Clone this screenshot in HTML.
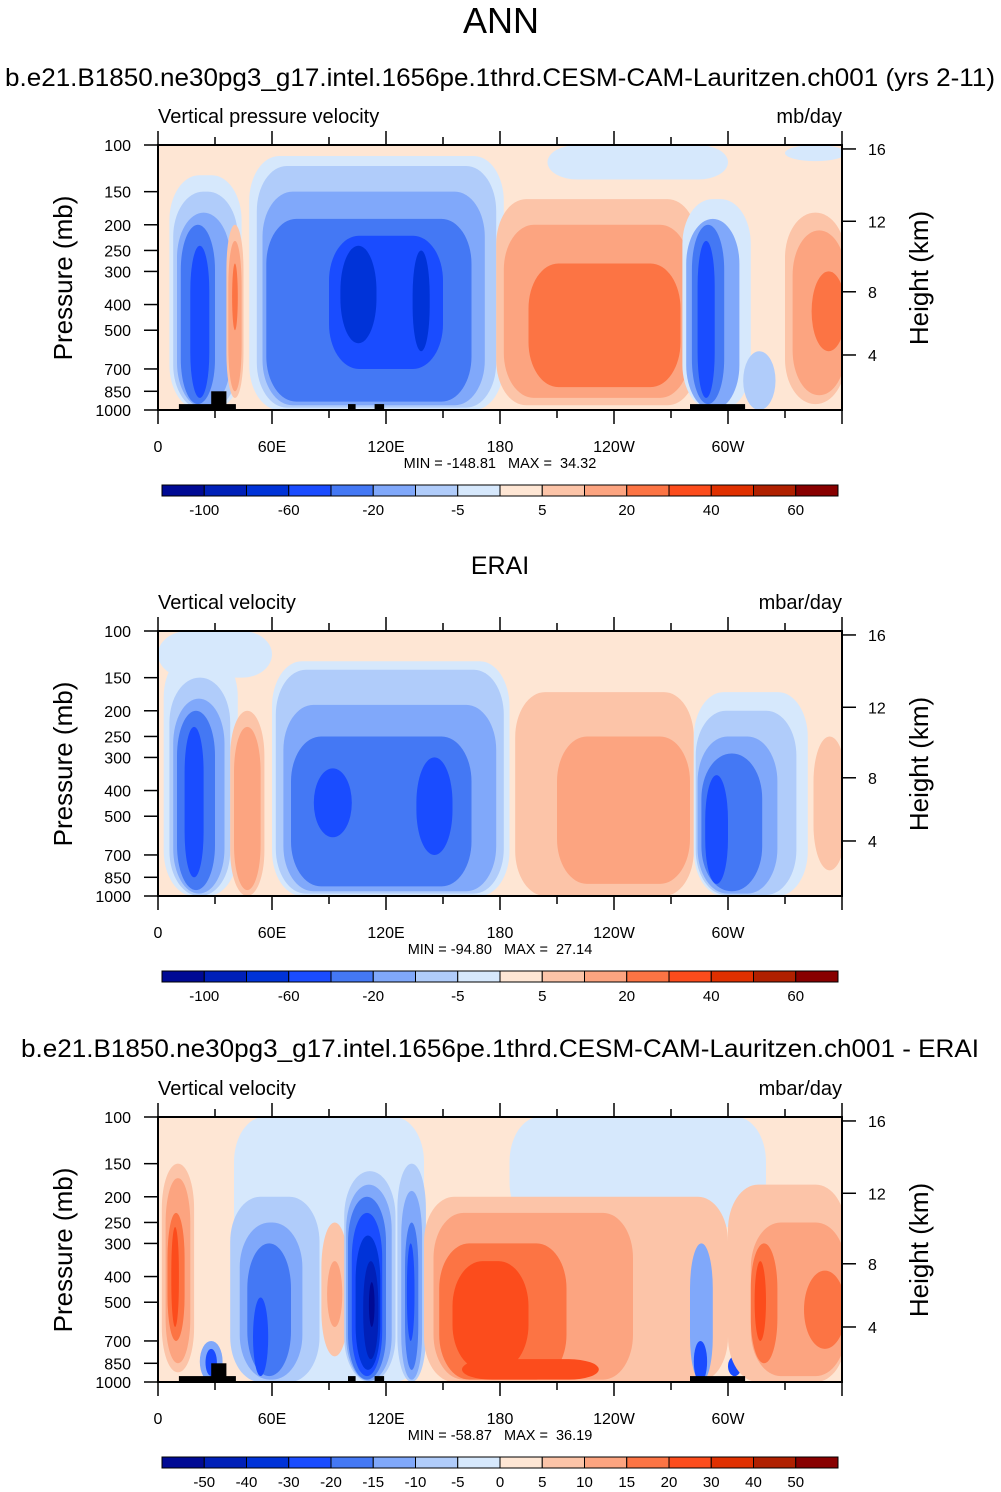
<!DOCTYPE html>
<html><head><meta charset="utf-8"><style>
body{margin:0;background:#fff;}
svg{display:block;font-family:"Liberation Sans",Arial,sans-serif;}
.mm{white-space:pre;}
</style></head><body>
<svg id="fig" width="1001" height="1492" viewBox="0 0 1001 1492" xmlns="http://www.w3.org/2000/svg">
<text x="501" y="33" font-size="36" text-anchor="middle">ANN</text>
<text x="500" y="86" font-size="25" text-anchor="middle" textLength="990" lengthAdjust="spacingAndGlyphs">b.e21.B1850.ne30pg3_g17.intel.1656pe.1thrd.CESM-CAM-Lauritzen.ch001 (yrs 2-11)</text>
<text x="500" y="574" font-size="25" text-anchor="middle">ERAI</text>
<text x="500" y="1057" font-size="25" text-anchor="middle" textLength="958" lengthAdjust="spacingAndGlyphs">b.e21.B1850.ne30pg3_g17.intel.1656pe.1thrd.CESM-CAM-Lauritzen.ch001 - ERAI</text>
<g id="panels"></g>
</svg>
<script>
const colors=["#000a94","#0020b8","#0033d8","#1a4cff","#4478f4","#80a8fa","#b0ccfa","#d6e8fc","#fee6d4","#fcc4a8","#fca480","#fc7444","#fc4c1c","#e03000","#b02000","#880000"];
const xTickLabels=["0","60E","120E","180","120W","60W"];
const xTickLons=[0,60,120,180,240,300];
const pTicks=[100,150,200,250,300,400,500,700,850,1000];
const hTicks=[4,8,12,16];
const hTickP=[620,358,194,103.5];
const cbLabelsMain=["-100","-60","-20","-5","5","20","40","60"];
const cbLabelsDiff=["-50","-40","-30","-20","-15","-10","-5","0","5","10","15","20","30","40","50"];
// blobs: lon0, lon1, pTop, pBottom, level
const blobsModel=[[205,300,100,135,7],[330,362,100,115,7],
[6,44,130,1000,7],[8,42,150,1000,6],[10,38,180,980,5],[12,30,200,950,4],[17,27,240,900,3],[36,45,200,900,9],[37,44,230,850,10],[39,42,280,500,11],
[48,182,110,1000,7],[52,178,120,980,6],[55,172,150,960,5],[57,165,190,930,4],[90,150,220,700,3],[96,115,240,560,2],[134,143,250,600,2],
[178,284,160,960,9],[182,280,200,900,10],[195,275,280,820,11],
[276,312,160,1000,7],[278,306,190,1000,5],[281,298,200,950,4],[284,293,230,900,3],[308,325,600,1000,6],
[330,362,180,950,9],[334,362,210,880,10],[344,362,300,600,11]];
const topoModel=[[11,41,950,1000],[28,36,850,1000],[100,104,950,1000],[114,119,950,1000],[280,309,950,1000]];
const blobsObs=[[0,60,100,150,7],[3,42,120,1000,7],[6,38,150,1000,6],[8,35,180,980,5],[10,30,200,950,4],[14,24,230,850,3],[38,56,200,1000,9],[40,54,230,950,10],
[60,185,130,1000,7],[62,182,140,980,6],[66,178,190,960,5],[70,165,250,920,4],[82,102,330,600,3],[136,155,300,700,3],
[188,282,170,1000,9],[210,280,250,900,10],
[282,342,170,1000,7],[283,336,200,990,6],[284,326,250,980,5],[286,318,290,960,4],[288,300,350,900,3],[345,362,250,800,9]];
const topoObs=[];
const blobsDiff=[[40,140,100,1000,7],[185,320,100,260,7],
[2,19,150,920,9],[4,17,170,850,10],[5,14,230,700,11],[7,11,260,620,12],
[22,34,700,1000,5],[25,31,750,950,3],
[38,85,200,1000,6],[43,76,250,980,5],[47,70,300,950,4],[50,58,480,950,3],
[86,100,250,800,9],[89,97,350,620,10],
[98,125,160,1000,6],[99,123,180,990,5],[100,120,200,980,4],[102,118,230,950,3],[104,117,280,900,2],[108,116,350,820,1],[111,114,420,620,0],
[126,141,150,1000,6],[128,139,190,980,5],[130,137,250,900,4],[131,135,300,700,3],
[140,300,200,1000,9],[145,250,230,980,10],[148,215,300,980,11],[155,195,350,900,12],[160,232,820,980,12],
[280,292,300,1000,5],[282,289,700,1000,3],[300,307,800,950,3],
[300,362,180,1000,9],[312,362,250,950,10],[312,326,300,850,11],[314,320,350,700,12],[340,362,380,750,11]];
const topoDiff=topoModel;
const panels=[
 {y0:145,lt:"Vertical pressure velocity",rt:"mb/day",mm:"MIN = -148.81   MAX =  34.32",blobs:blobsModel,topo:topoModel,cb:cbLabelsMain,bg:8,cby:485,name:"model"},
 {y0:631,lt:"Vertical velocity",rt:"mbar/day",mm:"MIN = -94.80   MAX =  27.14",blobs:blobsObs,topo:topoObs,cb:cbLabelsMain,bg:8,cby:971,name:"obs"},
 {y0:1117,lt:"Vertical velocity",rt:"mbar/day",mm:"MIN = -58.87   MAX =  36.19",blobs:blobsDiff,topo:topoDiff,cb:cbLabelsDiff,bg:8,cby:1457,name:"diff"}];
const NS="http://www.w3.org/2000/svg";
const X0=158,W=684,H=265;
function xs(l){return X0+l/360*W;}
function mk(t,a,p){const e=document.createElementNS(NS,t);for(const k in a)e.setAttribute(k,a[k]);p.appendChild(e);return e;}
const root=document.getElementById('panels');
panels.forEach((P,pi)=>{
 const y0=P.y0;
 const ys=p=>y0+Math.log10(p/100)*H;
 const g=mk('g',{},root);
 
 
 const cp=mk('clipPath',{id:'cp'+pi},g);
 mk('rect',{x:X0,y:y0,width:W,height:H},cp);
 const pl=mk('g',{'clip-path':'url(#cp'+pi+')'},g);
 
 
 mk('rect',{x:X0,y:y0,width:W,height:H,fill:colors[P.bg]},pl);
 P.blobs.forEach(b=>{
  const x1=xs(b[0]),x2=xs(b[1]),y1=ys(b[2]),y2=ys(b[3]);
  const w=x2-x1,h=y2-y1;
  const r=mk('rect',{x:x1,y:y1,width:w,height:h,rx:Math.min(w/2,30),ry:Math.min(h/2,45),fill:colors[b[4]]},pl);
  
  
 });
 P.topo.forEach(t=>{
  const r=mk('rect',{x:xs(t[0]),y:ys(t[2]),width:xs(t[1])-xs(t[0]),height:ys(t[3])-ys(t[2]),fill:'#000'},pl);
  
  
 });
 mk('rect',{x:X0,y:y0,width:W,height:H,fill:'none',stroke:'#000','stroke-width':2},g);
 for(let l=0;l<=360;l+=30){
  const major=l%60===0, len=major?14:8;
  mk('line',{x1:xs(l),x2:xs(l),y1:y0,y2:y0-len,stroke:'#000','stroke-width':1.5},g);
  mk('line',{x1:xs(l),x2:xs(l),y1:y0+H,y2:y0+H+len,stroke:'#000','stroke-width':1.5},g);
 }
 xTickLons.forEach((l,i)=>{
  const t=mk('text',{x:xs(l),y:y0+H+42,'font-size':16,'text-anchor':'middle'},g);t.textContent=xTickLabels[i];
  
  
 });
 pTicks.forEach(p=>{
  mk('line',{x1:X0,x2:X0-14,y1:ys(p),y2:ys(p),stroke:'#000','stroke-width':1.5},g);
  const t=mk('text',{x:X0-27,y:ys(p)+6,'font-size':16,'text-anchor':'end'},g);t.textContent=p;
  
  
 });
 hTicks.forEach((h,i)=>{
  const y=ys(hTickP[i]);
  mk('line',{x1:X0+W,x2:X0+W+14,y1:y,y2:y,stroke:'#000','stroke-width':1.5},g);
  const t=mk('text',{x:X0+W+26,y:y+6,'font-size':16},g);t.textContent=h;
  
  
 });
 let t=mk('text',{x:0,y:0,'font-size':26,'text-anchor':'middle',transform:`translate(72,${y0+133}) rotate(-90)`},g);t.textContent='Pressure (mb)';
 
 
 t=mk('text',{x:0,y:0,'font-size':26,'text-anchor':'middle',transform:`translate(928,${y0+133}) rotate(-90)`},g);t.textContent='Height (km)';
 
 
 t=mk('text',{x:158,y:y0-22,'font-size':20},g);t.textContent=P.lt;
 
 
 t=mk('text',{x:842,y:y0-22,'font-size':20,'text-anchor':'end'},g);t.textContent=P.rt;
 
 
 t=mk('text',{x:500,y:y0+H+58,'font-size':14.5,'text-anchor':'middle','class':'mm'},g);t.textContent=P.mm;
 
 
 const cb=mk('g',{},g);
 
 
 const bw=676/16;
 colors.forEach((c,i)=>{
  const r=mk('rect',{x:162+i*bw,y:P.cby,width:bw,height:11,fill:c,stroke:'#000','stroke-width':1},cb);
  
  
 });
 const step=P.cb.length===8?2:1;
 P.cb.forEach((s,i)=>{
  const k=step===2?(1+2*i):(1+i);
  const tt=mk('text',{x:162+k*bw,y:P.cby+30,'font-size':15,'text-anchor':'middle'},cb);tt.textContent=s;
  
  
 });
});
</script>
</body></html>
